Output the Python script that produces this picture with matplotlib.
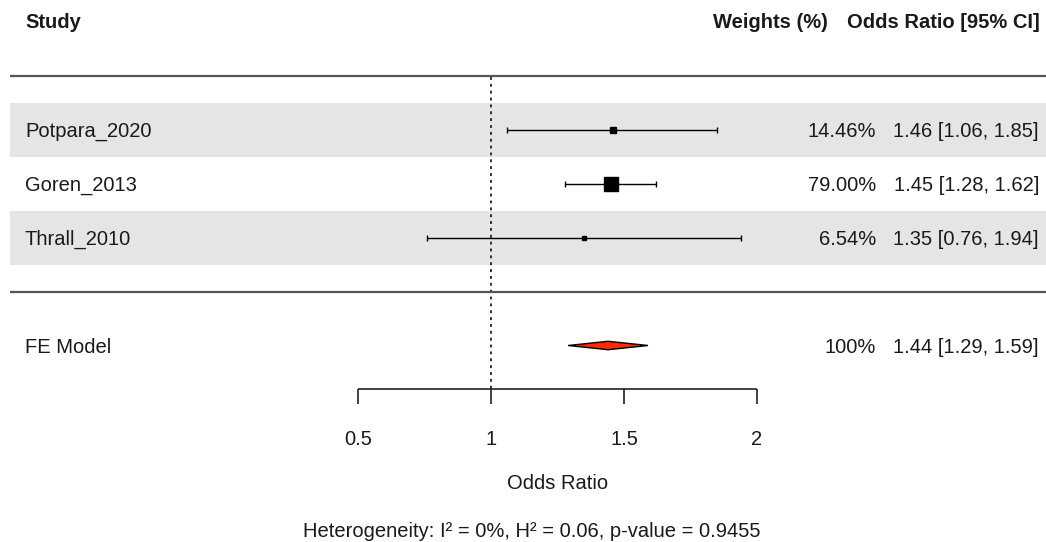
import matplotlib.pyplot as plt
import numpy as np
from matplotlib.patches import Polygon

# 資料
studies = ["Potpara_2020", "Goren_2013", "Thrall_2010"]
or_est = [1.46, 1.45, 1.35]
ci_low = [1.06, 1.28, 0.76]
ci_high = [1.85, 1.62, 1.94]
weights = [14.46, 79.00, 6.54]

fe_label = "FE Model"
fe_est = 1.44
fe_low = 1.29
fe_high = 1.59
fe_weight = "100%"

x_ticks = [0.5, 1, 1.5, 2]
x_tick_labels = ["0.5", "1", "1.5", "2"]
x_label = "Odds Ratio"
het_text = "Heterogeneity: I² = 0%, H² = 0.06, p-value = 0.9455"

plt.rcParams['font.family'] = ['Liberation Sans', 'DejaVu Sans']
fs = 14.5
txt_col = '#1a1a1a'

fig = plt.figure(figsize=(10.46, 5.42), dpi=100)
ax = fig.add_axes([0, 0, 1, 1])
ax.axis('off')

# 像素 -> 資料座標: px = 225 + 266*x, py = 129.5 + 54*row
ax.set_xlim(-225 / 266, (1046 - 225) / 266)
ax.set_ylim((542 - 129.5) / 54, -129.5 / 54)

x_left = (10 - 225) / 266
x_right = (1046 - 225) / 266
base = 0.135  # baseline offset

rows = np.arange(len(studies))
fe_row = len(studies) + 1

# 灰色底
for r in rows:
    if r % 2 == 0:
        ax.fill_between([x_left, x_right], r - 0.5, r + 0.5, color='#e5e5e5', lw=0, zorder=0)

# 分隔線
ax.hlines([-1.0, len(studies)], x_left, x_right, color='#555555', lw=1.6)

# 參考線
axis_row = (389 - 129.5) / 54
ax.vlines(1, -0.97, axis_row, color='#222222', lw=1.3, linestyles=(0, (1.6, 2.2)), zorder=1)

# 各研究
for r, est, lo, hi, w in zip(rows, or_est, ci_low, ci_high, weights):
    ax.errorbar(est, r, xerr=[[est - lo], [hi - est]], fmt='s', color='black',
                ms=1.1 * np.sqrt(w), elinewidth=1.0, capsize=2.2, capthick=1.0, zorder=3)
    ax.text(x_left + 0.056, r + base, studies[r], fontsize=fs, color=txt_col, va='baseline', ha='left')
    ax.text(2.447, r + base, f"{w:.2f}%", fontsize=fs, color=txt_col, va='baseline', ha='right')
    ax.text(3.060, r + base, f"{est:.2f} [{lo:.2f}, {hi:.2f}]", fontsize=fs, color=txt_col,
            va='baseline', ha='right')

# FE 模型
dh = 0.078
diamond = Polygon([[fe_low, fe_row], [fe_est, fe_row - dh], [fe_high, fe_row], [fe_est, fe_row + dh]],
                  closed=True, facecolor='#ff2a00', edgecolor='black', lw=1.0, zorder=3)
ax.add_patch(diamond)
ax.text(x_left + 0.056, fe_row + base, fe_label, fontsize=fs, color=txt_col, va='baseline', ha='left')
ax.text(2.447, fe_row + base, fe_weight, fontsize=fs, color=txt_col, va='baseline', ha='right')
ax.text(3.060, fe_row + base, f"{fe_est:.2f} [{fe_low:.2f}, {fe_high:.2f}]", fontsize=fs,
        color=txt_col, va='baseline', ha='right')

# 標題
head_row = (28.5 - 129.5) / 54
ax.text(x_left + 0.056, head_row, "Study", fontsize=fs, fontweight='bold', color=txt_col, va='baseline')
ax.text(2.267, head_row, "Weights (%)", fontsize=fs, fontweight='bold', color=txt_col,
        va='baseline', ha='right')
ax.text(3.064, head_row, "Odds Ratio [95% CI]", fontsize=fs, fontweight='bold', color=txt_col,
        va='baseline', ha='right')

# x 軸
tick_end = (404 - 129.5) / 54
ax.hlines(axis_row, x_ticks[0], x_ticks[-1], color='#222222', lw=1.2)
ax.vlines(x_ticks, axis_row, tick_end, color='#222222', lw=1.2)
lab_row = (445 - 129.5) / 54
for t, lab in zip(x_ticks, x_tick_labels):
    ax.text(t, lab_row, lab, fontsize=fs, color=txt_col, ha='center', va='baseline')
ax.text(np.mean([x_ticks[0], x_ticks[-1]]), (489.5 - 129.5) / 54, x_label, fontsize=fs,
        color=txt_col, ha='center', va='baseline')
ax.text((532 - 225) / 266, (537 - 129.5) / 54, het_text, fontsize=fs, color=txt_col,
        ha='center', va='baseline')

fig.savefig("out.png", dpi=100)
